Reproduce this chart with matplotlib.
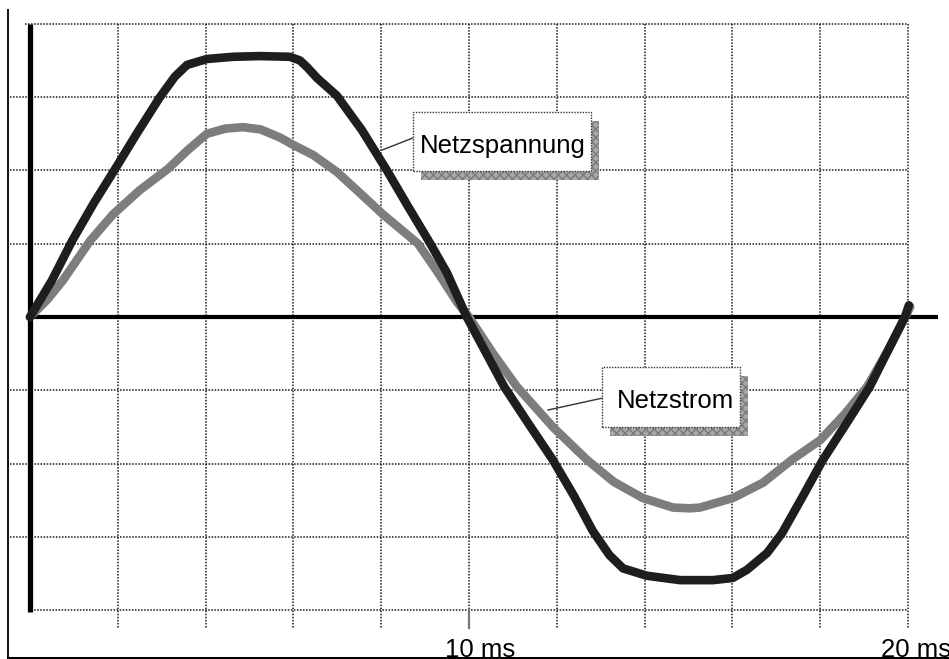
import matplotlib
matplotlib.use("Agg")
import matplotlib.pyplot as plt
from matplotlib.patches import Rectangle

# ---------------- data (time in ms, amplitude in grid divisions) ----------------
t_voltage = [0, 0.50, 0.96, 1.45, 1.94, 2.44, 2.96, 3.30, 3.58, 4.03, 4.62, 5.24,
             5.92, 6.15, 6.31, 6.54, 6.99, 7.56, 8.13, 8.60, 9.11, 9.50, 9.95,
             10.80, 11.35, 11.91, 12.40, 12.82, 13.20, 13.51, 14.05, 14.81, 15.56,
             16.01, 16.33, 16.79, 17.13, 17.60, 18.06, 18.60, 19.13, 19.55, 19.93,
             20.02]
u_voltage = [0, 0.50, 1.04, 1.55, 2.02, 2.51, 3.00, 3.28, 3.44, 3.52, 3.55, 3.56,
             3.55, 3.50, 3.41, 3.26, 3.02, 2.55, 2.00, 1.52, 1.01, 0.60, 0.0,
             -0.95, -1.45, -1.95, -2.45, -2.92, -3.25, -3.43, -3.53, -3.59, -3.59,
             -3.56, -3.45, -3.22, -2.95, -2.45, -1.95, -1.45, -0.95, -0.45, 0.0,
             0.16]

t_current = [0, 0.40, 0.75, 1.37, 1.89, 2.50, 3.14, 3.60, 4.03, 4.45, 4.85, 5.25,
             5.69, 5.99, 6.45, 6.99, 7.50, 8.04, 8.84, 9.30, 9.73, 10.0, 10.55,
             11.09, 11.91, 12.69, 13.30, 13.96, 14.65, 15.03, 15.26, 16.01, 16.70,
             17.35, 18.0, 18.55, 19.07, 19.55, 19.98, 20.05]
i_current = [0, 0.24, 0.50, 1.04, 1.40, 1.73, 2.02, 2.28, 2.50, 2.57, 2.59, 2.56,
             2.45, 2.35, 2.21, 1.98, 1.70, 1.40, 1.00, 0.60, 0.20, 0.0, -0.50,
             -0.95, -1.50, -1.95, -2.25, -2.47, -2.60, -2.61, -2.60, -2.47, -2.26,
             -1.95, -1.68, -1.33, -0.95, -0.45, 0.05, 0.14]

x_grid = [0, 2, 4, 6, 8, 10, 12, 14, 16, 18, 20]
y_grid = [-4, -3, -2, -1, 1, 2, 3, 4]
tick_labels = {10: "10 ms", 20: "20 ms"}
series_labels = ["Netzspannung", "Netzstrom"]

# ---------------- figure ----------------
W, H = 949, 659
fig = plt.figure(figsize=(W / 100, H / 100), dpi=100)
ax = fig.add_axes([0, 0, 1, 1])
ax.set_xlim(-0.683, 20.934)
ax.set_ylim(-4.666, 4.325)
ax.axis("off")

font = "Liberation Sans"
grid_col = "#1a1a1a"
dots = (0, (1, 1))

# horizontal grid lines
for y in y_grid:
    x0 = -0.455
    if y == 4:
        x0 = -0.11
    if y == -4:
        x0 = -0.05
    ax.plot([x0, 20], [y, y], color=grid_col, lw=1.1, ls=dots, zorder=1)

# vertical grid lines (extend below plot as ticks)
for x in x_grid[1:]:
    ax.plot([x, x], [4, -4.243], color=grid_col, lw=1.1, ls=dots, zorder=1)
# the 10 ms tick is solid
ax.plot([10, 10], [-4.0, -4.243], color="#777777", lw=1.6, zorder=1)

# axes: thick left axis and zero line
ax.plot([0, 0], [4, -4.03], color="black", lw=3.8, zorder=2, solid_capstyle="butt")
ax.plot([0, 20.68], [0, 0], color="black", lw=3.0, zorder=2, solid_capstyle="butt")

# curves
ax.plot(t_current, i_current, color="#7d7d7d", lw=6.2, zorder=3,
        solid_capstyle="round", solid_joinstyle="round")
ax.plot(t_voltage, u_voltage, color="#1e1e1e", lw=6.2, zorder=4,
        solid_capstyle="round", solid_joinstyle="round")


def label_box(text, box, text_xy, leader):
    (bx0, by0, bx1, by1) = box
    # shadow
    ax.add_patch(Rectangle((bx0 + 0.19, by1 - 0.12), bx1 - bx0, by0 - by1,
                           fc="#a8a8a8", ec="#7a7a7a", hatch="xxxx", lw=0,
                           zorder=5))
    ax.add_patch(Rectangle((bx0, by1), bx1 - bx0, by0 - by1, fc="white",
                           ec="#333333", lw=1.0, ls=dots, zorder=6))
    ax.text(text_xy[0], text_xy[1], text, fontsize=18.5, family=font,
            color="black", ha="left", va="baseline", zorder=7)
    ax.plot([leader[0][0], leader[1][0]], [leader[0][1], leader[1][1]],
            color="#333333", lw=1.0, zorder=5)


label_box(series_labels[0], (8.72, 2.797, 12.78, 1.992), (8.88, 2.237),
          ((8.72, 2.442), (8.02, 2.278)))
label_box(series_labels[1], (13.03, -0.682, 16.17, -1.50), (13.37, -1.241),
          ((13.05, -1.105), (11.80, -1.269)))

# tick labels (partly cut off by the bottom border, as in the reference)
lbl_offset = {10: -0.55, 20: -0.62}
for x, s in tick_labels.items():
    ax.text(x + lbl_offset[x], -4.644, s, fontsize=18.5, family=font,
            color="black", ha="left", va="baseline", clip_on=False, zorder=7)

# frame border (left and bottom)
ax.plot([-0.501, -0.501], [4.202, -4.645], color="black", lw=1.3,
        clip_on=False, zorder=8, solid_capstyle="butt")
ax.add_patch(Rectangle((-0.52, -4.666), 21.5, 0.03, fc="black", ec="none",
                       zorder=8, clip_on=False))
ax.add_patch(Rectangle((-0.7, -4.70), 21.7, 0.025, fc="white", ec="none",
                       zorder=9, clip_on=False))

fig.savefig("out.png", dpi=100)
